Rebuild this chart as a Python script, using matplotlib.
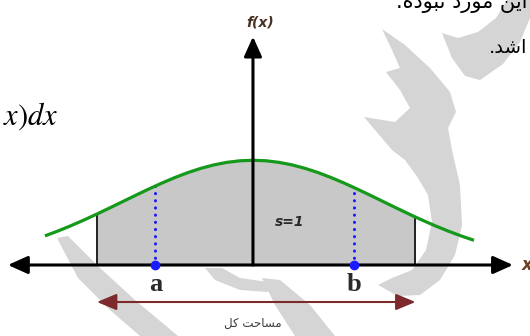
import matplotlib.pyplot as plt
import matplotlib.transforms as mtransforms
from matplotlib.patches import Polygon
import numpy as np

plt.rcParams['mathtext.fontset'] = 'stix'

curve_x = np.array([-1.6, -1.5, -1.4, -1.3, -1.2, -1.1, -1.0, -0.9, -0.8, -0.7,
                    -0.6, -0.5, -0.4, -0.3, -0.2, -0.1, 0.0, 0.1, 0.2, 0.3,
                    0.4, 0.5, 0.6, 0.7, 0.8, 0.9, 1.0, 1.1, 1.2, 1.25,
                    1.3, 1.4, 1.5, 1.6, 1.7])
curve_y = np.array([0.1109, 0.1295, 0.1497, 0.1714, 0.1942, 0.2179, 0.2420, 0.2661, 0.2897, 0.3123,
                    0.3332, 0.3521, 0.3683, 0.3814, 0.3910, 0.3970, 0.3989, 0.3970, 0.3910, 0.3814,
                    0.3683, 0.3521, 0.3332, 0.3123, 0.2897, 0.2661, 0.2420, 0.2179, 0.1942, 0.1826,
                    0.1714, 0.1497, 0.1295, 0.1109, 0.0940])

# shaded interval and the two marked points
bounds = [-1.2, 1.25]
bound_heights = [0.1942, 0.1826]
marks = ['a', 'b']
mark_x = [-0.75, 0.78]
mark_heights = [0.3011, 0.2943]
area_label = 's=1'

# persian strings, already in display order with joined letter forms
total_area = '\uFEDE\uFB90 \uFE96\uFEA3\uFE8E\uFEB4\uFEE3'
line_top = '.\uFEE9\uFEA9\uFEEE\uFE92\uFEE7 \uFEA9\uFEAD\uFEEE\uFEE3 \uFEE6\uFBFE\uFE8D'
line_two = '.\uFEAA\uFEB7\u0627'

# background watermark strokes (pixel coords, y down)
watermark = [
    [(442, 33), (458, 38), (478, 32), (496, 18), (507, 0), (530, 0), (530, 18),
     (520, 42), (503, 64), (480, 80), (465, 76), (452, 58)],
    [(382, 29), (405, 45), (430, 68), (450, 92), (456, 112), (448, 128), (452, 150),
     (460, 185), (462, 225), (455, 255), (440, 280), (420, 295), (398, 296), (378, 285),
     (392, 278), (412, 270), (426, 250), (432, 222), (428, 195), (418, 178), (405, 160),
     (392, 150), (364, 117), (395, 122), (410, 108), (400, 90), (386, 72), (400, 68),
     (392, 50)],
    [(57, 238), (68, 236), (100, 268), (135, 300), (178, 336), (140, 336), (110, 310),
     (78, 278)],
    [(205, 268), (222, 268), (240, 278), (268, 282), (268, 292), (240, 290), (215, 280)],
    [(262, 278), (280, 280), (310, 305), (335, 336), (295, 336), (275, 305)],
]

W, H = 530, 336
fig = plt.figure(figsize=(W / 100, H / 100), dpi=100)
ax = fig.add_axes([0, 0, 1, 1])
ax.set_xlim(-1.946, 2.131)
ax.set_ylim(-0.2705, 1.0095)
ax.axis('off')

px = mtransforms.Affine2D().scale(1 / W, -1 / H).translate(0, 1) + fig.transFigure
for poly in watermark:
    ax.add_patch(Polygon(poly, closed=True, facecolor='#d5d5d5', edgecolor='none',
                         transform=px, zorder=0))

# shaded area under the curve
inside = (curve_x >= bounds[0]) & (curve_x <= bounds[1])
ax.fill_between(curve_x, 0, curve_y, where=inside, color='#c8c8c8', lw=0, zorder=1)
for bx, bh in zip(bounds, bound_heights):
    ax.plot([bx, bx], [0, bh], color='#222222', lw=1.4, zorder=2)

ax.plot(curve_x, curve_y, color='#14991a', lw=2.3, zorder=4, solid_capstyle='butt')

# dotted verticals at a and b
for mx, mh in zip(mark_x, mark_heights):
    ax.plot([mx, mx], [0, mh], color='#1a1aff', lw=2.2, linestyle=(0, (0.05, 2.3)),
            dash_capstyle='round', zorder=3)
    ax.plot(mx, 0, 'o', color='#1a1aff', ms=6, zorder=6)

# axes with arrowheads
ax.annotate('', xy=(2.0, 0), xytext=(-1.885, 0),
            arrowprops=dict(arrowstyle='<|-|>,head_length=0.6,head_width=0.27',
                            color='black', lw=2.2, mutation_scale=20,
                            shrinkA=0, shrinkB=0), zorder=5)
ax.annotate('', xy=(0, 0.87), xytext=(0, 0),
            arrowprops=dict(arrowstyle='-|>,head_length=0.6,head_width=0.27',
                            color='black', lw=2.2, mutation_scale=20,
                            shrinkA=0, shrinkB=0), zorder=5)

# total-area arrow below the axis
ax.annotate('', xy=(bounds[1], -0.141), xytext=(bounds[0], -0.141),
            arrowprops=dict(arrowstyle='<|-|>,head_length=0.6,head_width=0.25',
                            color='#7d2a2c', lw=1.5, mutation_scale=20,
                            shrinkA=0, shrinkB=0), zorder=5)

ax.text(0.054, 0.925, 'f(x)', ha='center', va='center', fontsize=10, fontweight='bold',
        style='italic', color='#4a3020', zorder=7)
ax.text(2.07, 0, 'x', ha='left', va='center', fontsize=12, fontweight='bold',
        style='italic', color='#6a4020', zorder=7)
ax.text(0.285, 0.165, area_label, ha='center', va='center', fontsize=10,
        fontweight='bold', style='italic', color='#2a2a2a', zorder=7)
for m, mx in zip(marks, mark_x):
    ax.text(mx, -0.03, m, ha='center', va='top', fontsize=19, fontweight='bold',
            family='Liberation Serif', color='#2a2a2a', zorder=7)
ax.text(0, -0.222, total_area, ha='center', va='center', fontsize=8.5,
        family='DejaVu Sans', color='#3a3a3a', zorder=7)

# page text around the figure
fig.text(527 / W, 1 - 8 / H, line_top, ha='right', va='baseline', fontsize=15,
         family='DejaVu Sans', color='black')
fig.text(527 / W, 1 - 53 / H, line_two, ha='right', va='baseline', fontsize=14,
         family='DejaVu Sans', color='black')
fig.text(3 / W, 1 - 125 / H, r'$x)dx$', ha='left', va='baseline', fontsize=22,
         color='black')

fig.savefig('out.png', dpi=100)
